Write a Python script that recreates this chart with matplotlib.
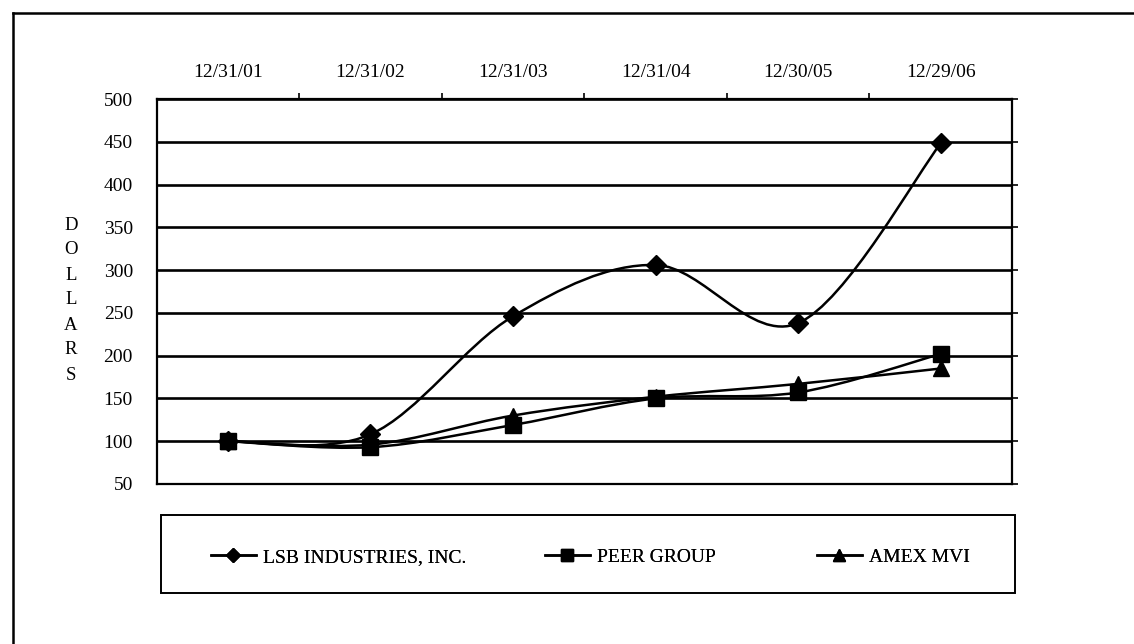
import numpy as np
import matplotlib
matplotlib.use("Agg")
import matplotlib.pyplot as plt
from matplotlib.path import Path
from matplotlib.patches import PathPatch, Rectangle
from matplotlib.lines import Line2D

plt.rcParams['font.family'] = ['Liberation Serif', 'DejaVu Serif']

dates = ["12/31/01", "12/31/02", "12/31/03", "12/31/04", "12/30/05", "12/29/06"]
lsb = [100, 108, 246, 306, 238, 448]
peer = [100, 93, 119, 150, 157, 202]
amex = [100, 96, 130, 152, 167, 185]
yticks = [50, 100, 150, 200, 250, 300, 350, 400, 450, 500]

names = ["LSB INDUSTRIES, INC.", "PEER GROUP", "AMEX MVI"]
markers = ["D", "s", "^"]
msizes = [10, 12, 11]
leg_ms = [7.5, 8, 9]


def smooth_path(xs, ys):
    # Excel style smoothed line: cubic bezier with catmull-rom control points
    pts = np.column_stack([xs, ys]).astype(float)
    verts = [pts[0]]
    codes = [Path.MOVETO]
    n = len(pts)
    for i in range(n - 1):
        p0 = pts[i - 1] if i > 0 else pts[i]
        p1 = pts[i]
        p2 = pts[i + 1]
        p3 = pts[i + 2] if i + 2 < n else pts[i + 1]
        c1 = p1 + (p2 - p0) / 6.0
        c2 = p2 - (p3 - p1) / 6.0
        verts += [c1, c2, p2]
        codes += [Path.CURVE4] * 3
    return Path(verts, codes)


W, H = 1134, 644
fig = plt.figure(figsize=(W / 100, H / 100), dpi=100)
ax = fig.add_axes([156.5 / W, 1 - 484 / H, 855.5 / W, 385 / H])

x = np.arange(len(dates))
for vals, mk, ms in zip([lsb, peer, amex], markers, msizes):
    ax.add_patch(PathPatch(smooth_path(x, vals), fill=False, lw=1.8,
                           edgecolor='black', zorder=3))
    ax.plot(x, vals, linestyle='none', marker=mk, ms=ms, color='black',
            zorder=4)

ax.set_xlim(-0.5, len(dates) - 0.5)
ax.set_ylim(50, 500)
ax.set_yticks(yticks)
ax.set_yticklabels([str(v) for v in yticks], fontsize=14)
ax.tick_params(axis='y', length=0, pad=17)
ax.yaxis.grid(True, color='black', lw=1.9)
ax.set_axisbelow(True)

# category labels on top, boundary ticks
ax.xaxis.tick_top()
ax.set_xticks(x)
ax.set_xticklabels(dates, fontsize=14)
ax.set_xticks(np.arange(0.5, len(dates) - 0.5, 1), minor=True)
ax.tick_params(axis='x', which='major', length=0, pad=13)
ax.tick_params(axis='x', which='minor', length=4, width=1.2, direction='out')

for sp in ax.spines.values():
    sp.set_linewidth(1.6)

# right side small ticks
axr = ax.twinx()
axr.set_ylim(50, 500)
axr.set_yticks(yticks)
axr.set_yticklabels([])
axr.tick_params(axis='y', length=4, width=1.2)
for sp in axr.spines.values():
    sp.set_visible(False)

# vertical DOLLARS label
for i, ch in enumerate("DOLLARS"):
    fig.text(71 / W, 1 - (225 + i * 25) / H, ch, fontsize=13.5,
             ha='center', va='center')

# legend box
fig.add_artist(Rectangle((161 / W, 1 - 593 / H), 854 / W, 78 / H,
                         transform=fig.transFigure, fill=False,
                         edgecolor='black', lw=1.4))
leg_x = [211, 545, 817]
for nm, mk, ms, lx in zip(names, markers, leg_ms, leg_x):
    h = Line2D([], [], color='black', lw=1.8, marker=mk, ms=ms)
    leg = fig.legend([h], [nm], loc='center left', frameon=False,
                     bbox_to_anchor=(lx / W, 1 - 557 / H),
                     fontsize=14, handlelength=2.3, handletextpad=0.35,
                     borderpad=0, borderaxespad=0)
    fig.add_artist(leg)

# outer frame
fig.add_artist(Line2D([12.5 / W, 12.5 / W], [0, 1 - 13 / H],
                      transform=fig.transFigure, color='black', lw=1.8))
fig.add_artist(Line2D([12.5 / W, 1], [1 - 13 / H, 1 - 13 / H],
                      transform=fig.transFigure, color='black', lw=1.8))

fig.savefig("out.png", dpi=100)
